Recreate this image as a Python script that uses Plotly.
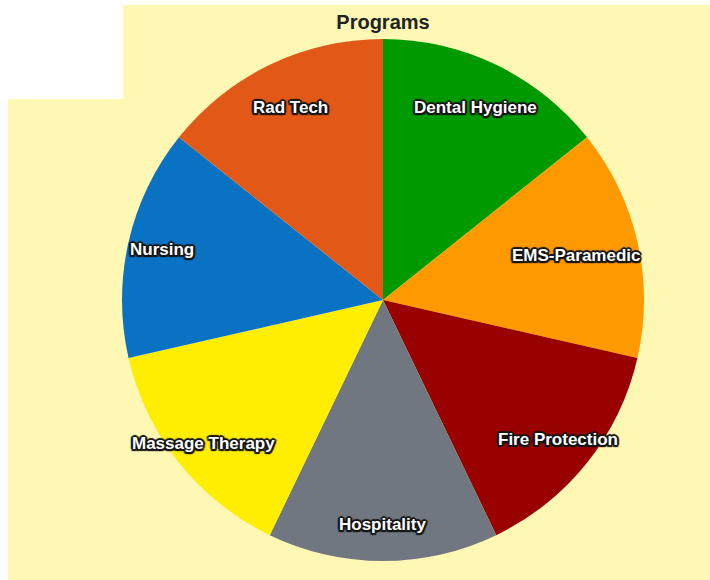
import math
import plotly.graph_objects as go

# Program enrollment share (equal slices)
programs = ["Dental Hygiene", "EMS-Paramedic", "Fire Protection", "Hospitality",
            "Massage Therapy", "Nursing", "Rad Tech"]
values = [1, 1, 1, 1, 1, 1, 1]
colors = ["#009A00", "#FF9900", "#990000", "#707780",
          "#FFEE00", "#0A72C2", "#E25817"]

W, H = 710, 580
BG = "#FFF8B4"

# pie geometry in pixels, converted to paper coordinates
cx_px, cy_px, r_px = 383, 300, 261
dom_x = [(cx_px - r_px) / W, (cx_px + r_px) / W]
dom_y = [1 - (cy_px + r_px) / H, 1 - (cy_px - r_px) / H]

fig = go.Figure(go.Pie(
    labels=programs,
    values=values,
    marker=dict(colors=colors, line=dict(width=0)),
    sort=False,
    direction="clockwise",
    rotation=0,
    textinfo="none",
    hoverinfo="label+percent",
    showlegend=False,
    domain=dict(x=dom_x, y=dom_y),
))

oc = "#151515"
outline = (f"1.5px 1.5px 1px {oc}, -1.5px -1.5px 1px {oc}, "
           f"1.5px -1.5px 1px {oc}, -1.5px 1.5px 1px {oc}, "
           f"0px 2px 1px {oc}, 0px -2px 1px {oc}, 2px 0px 1px {oc}, -2px 0px 1px {oc}")

# slice labels placed along each slice's bisector
total = sum(values)
label_r = [0.82, 0.76, 0.86, 0.86, 0.88, 0.87, 0.82]
cum = 0
annotations = []
for name, v, rr in zip(programs, values, label_r):
    mid = (cum + v / 2) / total * 2 * math.pi
    cum += v
    px = cx_px + rr * r_px * math.sin(mid)
    py = cy_px - rr * r_px * math.cos(mid)
    annotations.append(dict(
        x=px / W, y=1 - py / H, xref="paper", yref="paper",
        text=name, showarrow=False, xanchor="center", yanchor="middle",
        font=dict(family="Liberation Sans, Arial, sans-serif", size=17,
                  color="white", weight="bold", shadow=outline),
    ))

fig.update_layout(
    width=W, height=H,
    margin=dict(l=0, r=0, t=0, b=0),
    paper_bgcolor=BG,
    plot_bgcolor=BG,
    title=dict(text="<b>Programs</b>", x=383 / W, xanchor="center",
               y=1 - 22 / H, yanchor="middle",
               font=dict(family="Liberation Sans, Arial, sans-serif",
                         size=20, color="#222222")),
    annotations=annotations,
    shapes=[
        dict(type="rect", xref="paper", yref="paper", layer="below",
             x0=0, x1=1, y0=1 - 5 / H, y1=1, fillcolor="white", line_width=0),
        dict(type="rect", xref="paper", yref="paper", layer="below",
             x0=0, x1=8 / W, y0=0, y1=1, fillcolor="white", line_width=0),
        dict(type="rect", xref="paper", yref="paper", layer="below",
             x0=0, x1=123 / W, y0=1 - 99 / H, y1=1, fillcolor="white", line_width=0),
    ],
)

fig.write_html("out.html")
